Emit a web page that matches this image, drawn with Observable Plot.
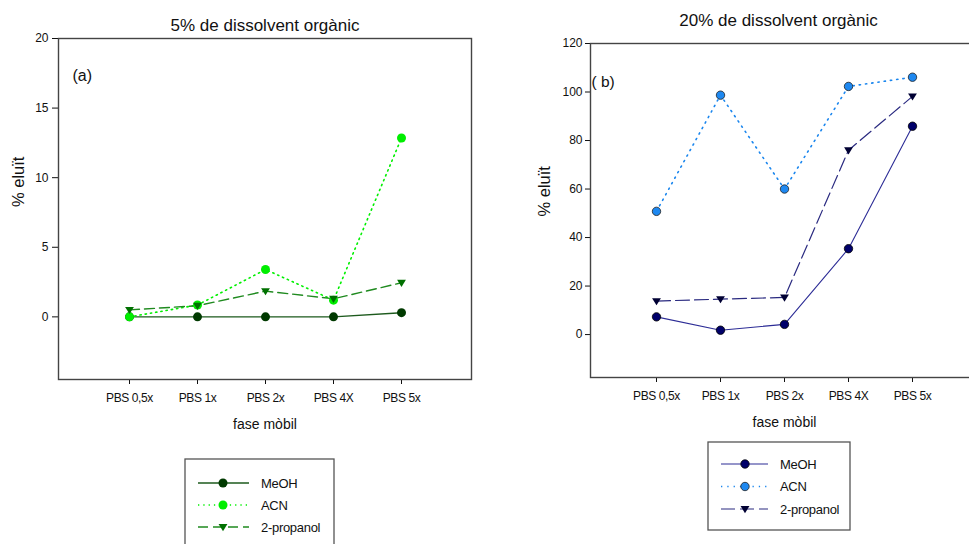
<!DOCTYPE html>
<html>
<head>
<meta charset="utf-8">
<script src="https://cdn.jsdelivr.net/npm/d3@7"></script>
<script src="https://cdn.jsdelivr.net/npm/@observablehq/plot@0.6"></script>
<style>
  html, body { margin: 0; padding: 0; background: #fff; }
  #root { position: relative; width: 969px; height: 544px; overflow: hidden; background: #fff; font-family: "Liberation Sans", Arial, sans-serif; }
  #root > * { position: absolute; }
</style>
</head>
<body>
<div id="root"></div>
<script>
// ---- data ----
const categories = ["PBS 0,5x", "PBS 1x", "PBS 2x", "PBS 4X", "PBS 5x"];
const seriesNames = ["MeOH", "ACN", "2-propanol"];

// panel (a): 5% organic solvent
const meoh5 = [0, 0, 0, 0, 0.3];
const acn5 = [0, 0.85, 3.4, 1.2, 12.85];
const prop5 = [0.5, 0.8, 1.85, 1.3, 2.45];
const yTicks5 = [0, 5, 10, 15, 20];

// panel (b): 20% organic solvent
const meoh20 = [7.3, 1.8, 4.2, 35.4, 85.9];
const acn20 = [50.8, 98.7, 60.0, 102.3, 106.1];
const prop20 = [13.8, 14.6, 15.3, 76.0, 98.2];
const yTicks20 = [0, 20, 40, 60, 80, 100, 120];

const titleA = "5% de dissolvent orgànic";
const titleB = "20% de dissolvent orgànic";
const xTitle = "fase mòbil";
const yTitle = "% eluït";

// ---- styles ----
const stylesA = {
  "MeOH":       {line: "#1d5a1d", dot: "#003a00", dash: null,   width: 1.4, symbol: "circle"},
  "ACN":        {line: "#00f000", dot: "#00ee00", dash: "1.3,4", width: 1.6, symbol: "circle"},
  "2-propanol": {line: "#1f8a1f", dot: "#007000", dash: "10,5", width: 1.4, symbol: "tri"}
};
const stylesB = {
  "MeOH":       {line: "#2c2c96", dot: "#00006a", dash: null,   width: 1.1, symbol: "circle", outline: "#000"},
  "ACN":        {line: "#1a86ee", dot: "#1e88f0", dash: "1.3,5", width: 1.6, symbol: "circle", outline: "#222"},
  "2-propanol": {line: "#2a2a80", dot: "#000033", dash: "14,5", width: 1.2, symbol: "tri", outline: "none"}
};

const triDown = {
  draw(ctx, size) {
    const r = Math.sqrt(size / Math.PI);
    const w = r * 1.05;
    ctx.moveTo(-w, -r * 0.7);
    ctx.lineTo(w, -r * 0.7);
    ctx.lineTo(0, r * 1.0);
    ctx.closePath();
  }
};

function rows(values) {
  return categories.map((c, i) => ({cat: c, v: values[i]}));
}

function seriesMarks(valuesBySeries, styles, rDot) {
  const marks = [];
  seriesNames.forEach((name, k) => {
    const data = rows(valuesBySeries[k]);
    const s = styles[name];
    marks.push(Plot.line(data, {
      x: "cat", y: "v", stroke: s.line, strokeWidth: s.width,
      strokeDasharray: s.dash || undefined
    }));
  });
  seriesNames.forEach((name, k) => {
    const data = rows(valuesBySeries[k]);
    const s = styles[name];
    marks.push(Plot.dot(data, {
      x: "cat", y: "v", r: s.symbol === "tri" ? 4.2 : rDot,
      symbol: s.symbol === "tri" ? triDown : "circle",
      fill: s.dot, stroke: s.outline || "none", strokeWidth: 0.8
    }));
  });
  return marks;
}

const root = document.getElementById("root");
const txt = (s, o) => Plot.text([s], {text: d => d, fill: "#111", lineAnchor: "middle", ...o});

// ---- panel (a) ----
const plotA = Plot.plot({
  width: 490, height: 440,
  marginLeft: 58, marginRight: 19, marginTop: 38, marginBottom: 61,
  style: {fontFamily: "Liberation Sans, Arial, sans-serif", fontSize: "12px", background: "transparent", overflow: "visible", color: "#111"},
  x: {type: "point", domain: categories, padding: 1, label: null, tickSize: 5, tickPadding: 9},
  y: {domain: [-4.5, 20], ticks: yTicks5, label: null, tickSize: 6, tickPadding: 4},
  marks: [
    Plot.frame({stroke: "#444", strokeWidth: 1.4}),
    ...seriesMarks([meoh5, acn5, prop5], stylesA, 4.5),
    txt("(a)", {frameAnchor: "top-left", dx: 14, dy: 37, fontSize: 16, textAnchor: "start"}),
    txt(titleA, {frameAnchor: "top", dy: -13, fontSize: 17, style: "letter-spacing:-0.6px"}),
    txt(xTitle, {frameAnchor: "bottom", dy: 45, fontSize: 14}),
    txt(yTitle, {frameAnchor: "left", dx: -40, dy: -2, rotate: -90, fontSize: 16.5})
  ]
});
plotA.style.left = "0px";
plotA.style.top = "0px";
root.appendChild(plotA);

// ---- panel (b) ----
const plotB = Plot.plot({
  width: 500, height: 440,
  marginLeft: 100, marginRight: 12, marginTop: 43, marginBottom: 63,
  style: {fontFamily: "Liberation Sans, Arial, sans-serif", fontSize: "12px", background: "transparent", overflow: "visible", color: "#111"},
  x: {type: "point", domain: categories, padding: 1, label: null, tickSize: 5, tickPadding: 9},
  y: {domain: [-17.7, 120], ticks: yTicks20, label: null, tickSize: 5, tickPadding: 3},
  marks: [
    Plot.frame({stroke: "#444", strokeWidth: 1.4}),
    ...seriesMarks([meoh20, acn20, prop20], stylesB, 4.2),
    txt("( b)", {frameAnchor: "top-left", dx: 1, dy: 39, fontSize: 15.5, textAnchor: "start"}),
    txt(titleB, {frameAnchor: "top", dx: -6, dy: -23, fontSize: 17, style: "letter-spacing:-0.6px"}),
    txt(xTitle, {frameAnchor: "bottom", dy: 45, fontSize: 14}),
    txt(yTitle, {frameAnchor: "left", dx: -46, dy: 6, rotate: -90, fontSize: 16.5})
  ]
});
plotB.style.left = "490px";
plotB.style.top = "0px";
root.appendChild(plotB);

// tighten x tick labels a bit
d3.selectAll("#root svg g[aria-label='x-axis'] text, #root svg g[aria-label='x-axis tick label'] text").style("letter-spacing", "-0.4px");

// ---- legends ----
const ov = d3.select(root).append("svg")
  .attr("width", 969).attr("height", 544)
  .style("left", "0px").style("top", "0px")
  .style("font-family", "Liberation Sans, Arial, sans-serif");

function legend(box, rowsY, lineX0, lineX1, markX, textX, styles, rDot) {
  ov.append("rect").attr("x", box.x).attr("y", box.y).attr("width", box.w).attr("height", box.h)
    .attr("fill", "none").attr("stroke", "#555").attr("stroke-width", 1.3);
  seriesNames.forEach((name, i) => {
    const s = styles[name];
    const y = rowsY[i];
    ov.append("line").attr("x1", lineX0).attr("x2", lineX1).attr("y1", y).attr("y2", y)
      .attr("stroke", s.line).attr("stroke-width", s.width)
      .attr("stroke-dasharray", s.dash || null);
    if (s.symbol === "tri") {
      const p = d3.path();
      triDown.draw(p, Math.PI * 4.2 * 4.2);
      ov.append("path").attr("d", p.toString()).attr("transform", `translate(${markX},${y})`)
        .attr("fill", s.dot).attr("stroke", s.outline || "none");
    } else {
      ov.append("circle").attr("cx", markX).attr("cy", y).attr("r", rDot)
        .attr("fill", s.dot).attr("stroke", s.outline || "none").attr("stroke-width", 0.8);
    }
    ov.append("text").attr("x", textX).attr("y", y).attr("dy", "0.35em")
      .attr("font-size", 13).attr("fill", "#111").style("letter-spacing", "-0.3px").text(name);
  });
}

legend({x: 185, y: 459, w: 149, h: 100}, [483, 505, 527], 198, 249, 223, 261, stylesA, 4.5);
legend({x: 708, y: 442, w: 142, h: 88}, [464, 486.5, 509], 721, 768, 745, 780, stylesB, 4.2);
</script>
</body>
</html>
